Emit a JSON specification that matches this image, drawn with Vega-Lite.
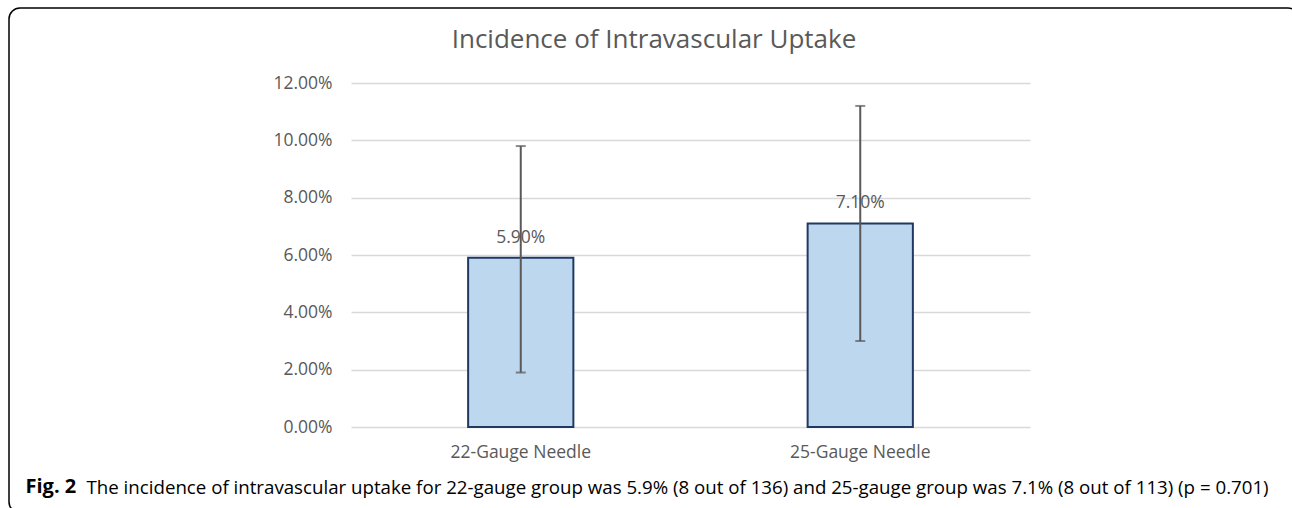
{
  "$schema": "https://vega.github.io/schema/vega-lite/v6.json",
  "autosize": {"type": "none"},
  "padding": {"left": 9, "top": 8, "right": 0, "bottom": 0},
  "width": 1290,
  "height": 505,
  "background": "#ffffff",
  "config": {
    "view": {"stroke": "#000000", "strokeWidth": 1.5, "cornerRadius": 11},
    "font": "Open Sans"
  },
  "title": {
    "text": "Incidence of Intravascular Uptake",
    "frame": "group",
    "anchor": "middle",
    "offset": -45,
    "fontSize": 26,
    "fontWeight": "normal",
    "color": "#595959",
    "font": "Open Sans"
  },
  "data": {
    "values": [
      {"group": "22-Gauge Needle", "value": 0.059, "lo": 0.019, "hi": 0.098, "label": "5.90%"},
      {"group": "25-Gauge Needle", "value": 0.071, "lo": 0.030, "hi": 0.112, "label": "7.10%"}
    ]
  },
  "layer": [
    {
      "mark": {"type": "bar", "fill": "#BDD7EE", "stroke": "#1F3864", "strokeWidth": 2},
      "encoding": {
        "x": {
          "field": "group",
          "type": "nominal",
          "sort": null,
          "scale": {"range": [342, 1021], "paddingInner": 0.69, "paddingOuter": 0.345},
          "axis": {
            "orient": "bottom",
            "offset": -86,
            "domain": false,
            "ticks": false,
            "labelAngle": 0,
            "labelFontSize": 17.5,
            "labelColor": "#595959",
            "labelPadding": 16,
            "title": "Fig. 2",
            "titleFontSize": 20,
            "titleFontWeight": "bold",
            "titleColor": "#000000",
            "titleAlign": "left",
            "titleAnchor": "start",
            "titleBaseline": "alphabetic",
            "titleX": 16,
            "titleY": 65
          }
        },
        "y": {
          "field": "value",
          "type": "quantitative",
          "scale": {"domain": [0, 0.12], "range": [419, 75], "nice": false},
          "axis": {
            "orient": "left",
            "offset": -342,
            "values": [0, 0.02, 0.04, 0.06, 0.08, 0.1, 0.12],
            "format": ".2%",
            "domain": false,
            "ticks": false,
            "grid": true,
            "gridColor": "#D9D9D9",
            "gridWidth": 1.5,
            "labelFontSize": 17.5,
            "labelColor": "#595959",
            "labelPadding": 19,
            "title": null
          }
        }
      }
    },
    {
      "mark": {"type": "rule", "color": "#595959", "strokeWidth": 2},
      "encoding": {
        "x": {
          "field": "group",
          "type": "nominal",
          "sort": null,
          "axis": {
            "orient": "top",
            "domain": false,
            "ticks": false,
            "labels": false,
            "grid": false,
            "title": "The incidence of intravascular uptake for 22-gauge group was 5.9% (8 out of 136) and 25-gauge group was 7.1% (8 out of 113) (p = 0.701)",
            "titleFontSize": 18.7,
            "titleFontWeight": "normal",
            "titleColor": "#000000",
            "titleAlign": "left",
            "titleAnchor": "start",
            "titleBaseline": "alphabetic",
            "titleX": 77,
            "titleY": 485
          }
        },
        "y": {"field": "lo", "type": "quantitative"},
        "y2": {"field": "hi"}
      }
    },
    {
      "mark": {"type": "tick", "color": "#595959", "thickness": 2, "size": 10},
      "encoding": {
        "x": {"field": "group", "type": "nominal", "sort": null, "axis": null},
        "y": {"field": "lo", "type": "quantitative"}
      }
    },
    {
      "mark": {"type": "tick", "color": "#595959", "thickness": 2, "size": 10},
      "encoding": {
        "x": {"field": "group", "type": "nominal", "sort": null, "axis": null},
        "y": {"field": "hi", "type": "quantitative"}
      }
    },
    {
      "mark": {"type": "text", "fontSize": 17.5, "color": "#595959", "baseline": "alphabetic", "dy": -15},
      "encoding": {
        "x": {"field": "group", "type": "nominal", "sort": null, "axis": null},
        "y": {"field": "value", "type": "quantitative"},
        "text": {"field": "label", "type": "nominal"}
      }
    }
  ],
  "resolve": {"axis": {"x": "independent"}}
}
